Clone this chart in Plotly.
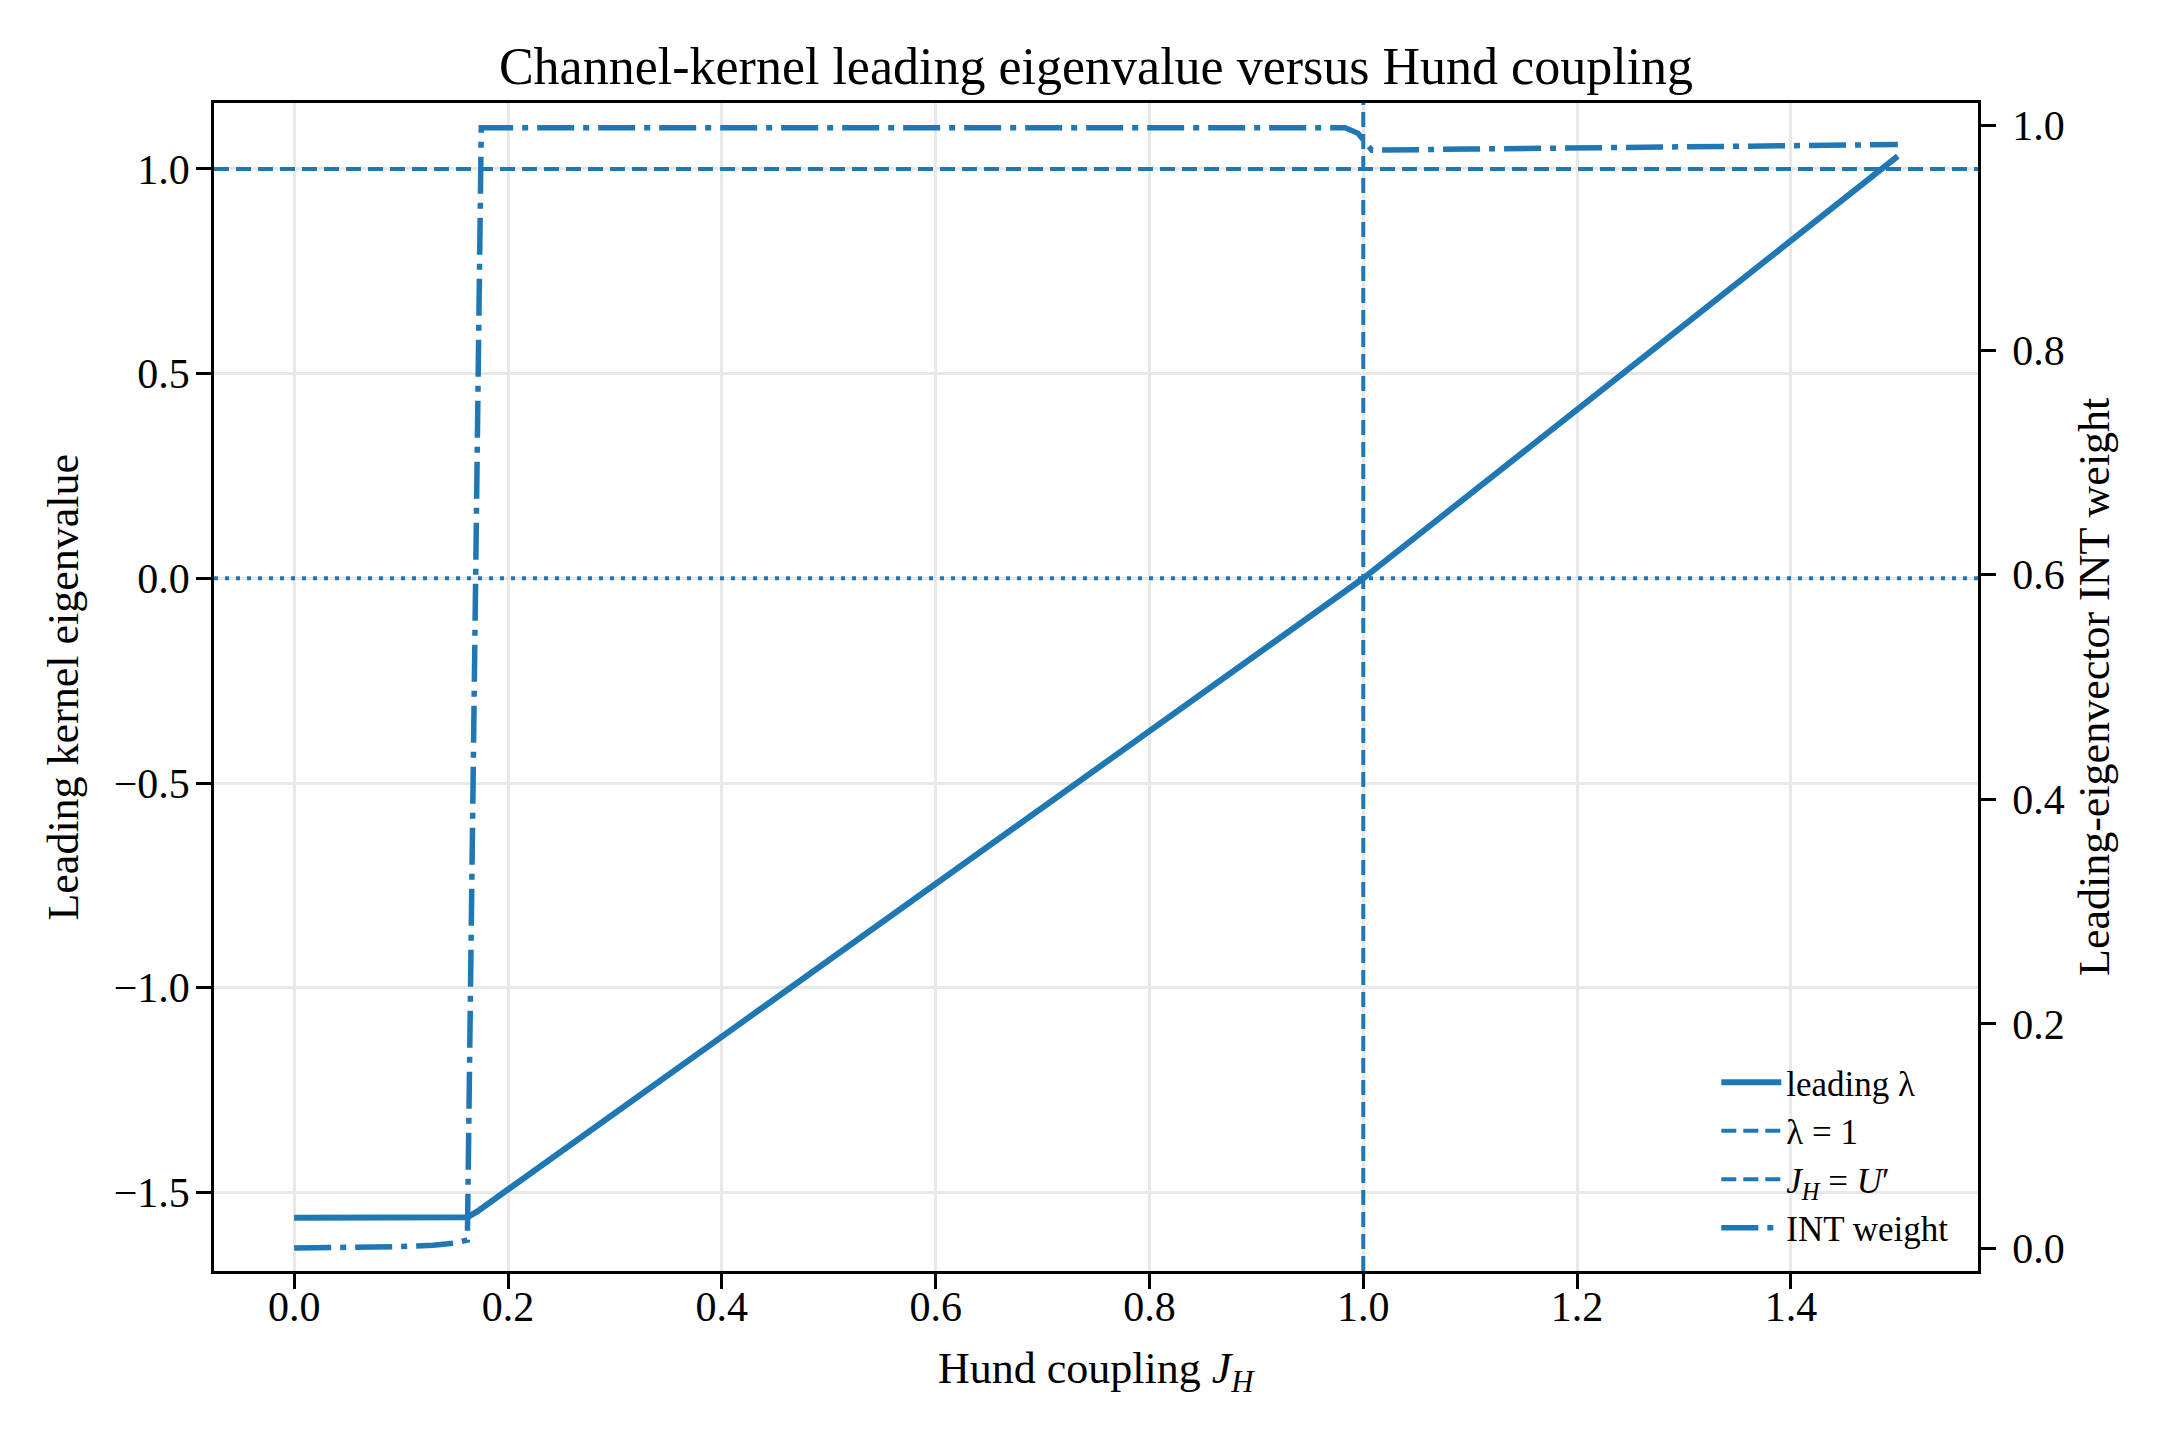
import plotly.graph_objects as go

# ---- data ----
J_lambda = [0.0, 0.05, 0.10, 0.15, 0.162, 0.171, 0.2, 0.4, 0.6, 0.8, 1.0, 1.2, 1.4, 1.5]
leading_lambda = [-1.562, -1.562, -1.562, -1.562, -1.561, -1.547, -1.493, -1.120,
                  -0.747, -0.373, 0.0, 0.412, 0.824, 1.031]

J_int = [0.0, 0.05, 0.10, 0.13, 0.15, 0.162, 0.175, 0.5, 0.983, 0.995, 1.008, 1.1, 1.3, 1.5]
int_weight = [0.0004, 0.0008, 0.0018, 0.003, 0.0048, 0.0076, 0.998, 0.998, 0.998,
              0.993, 0.978, 0.979, 0.981, 0.983]

lambda_crit = 1.0
lambda_zero = 0.0
J_equals_Uprime = 1.0

x_ticks = [0.0, 0.2, 0.4, 0.6, 0.8, 1.0, 1.2, 1.4]
y_ticks = [-1.5, -1.0, -0.5, 0.0, 0.5, 1.0]
y2_ticks = [0.0, 0.2, 0.4, 0.6, 0.8, 1.0]

BLUE = "#1f77b4"
FONT = "Liberation Serif"

fig = go.Figure()

fig.add_trace(go.Scatter(
    x=J_lambda, y=leading_lambda, mode="lines", name="leading λ",
    line=dict(color=BLUE, width=6), legendrank=1, yaxis="y"))

fig.add_trace(go.Scatter(
    x=J_int, y=int_weight, mode="lines", name="INT weight",
    line=dict(color=BLUE, width=5.5, dash="37px,9px,6px,9px"),
    legendrank=4, yaxis="y2"))

# reference lines
fig.add_shape(type="line", xref="x domain", x0=0, x1=1, yref="y",
              y0=lambda_crit, y1=lambda_crit,
              line=dict(color=BLUE, width=4, dash="15px,7px"),
              showlegend=True, name="λ = 1", legendrank=2)
fig.add_shape(type="line", xref="x", x0=J_equals_Uprime, x1=J_equals_Uprime,
              yref="y domain", y0=0, y1=1,
              line=dict(color=BLUE, width=4, dash="15px,7px"),
              showlegend=True, name="<i>J</i><sub><i>H</i></sub> = <i>U</i>′",
              legendrank=3)
fig.add_shape(type="line", xref="x domain", x0=0, x1=1, yref="y",
              y0=lambda_zero, y1=lambda_zero,
              line=dict(color=BLUE, width=4, dash="4px,7px"))

axis_common = dict(
    showline=True, linecolor="black", linewidth=3.3,
    ticks="outside", ticklen=14.6, tickwidth=3.3, tickcolor="black",
    tickfont=dict(family=FONT, size=42, color="black"),
    zeroline=False,
)

fig.update_layout(
    width=2160, height=1440,
    margin=dict(l=214, r=182, t=103, b=169),
    paper_bgcolor="white", plot_bgcolor="white",
    font=dict(family=FONT, color="black"),
    title=dict(text="Channel-kernel leading eigenvalue versus Hund coupling",
               font=dict(family=FONT, size=52, color="black"),
               x=0.5, xref="paper", xanchor="center",
               y=1 - 66 / 1440, yref="container", yanchor="middle"),
    xaxis=dict(range=[-0.075, 1.575], tickvals=x_ticks,
               ticktext=[f"{v:.1f}" for v in x_ticks],
               showgrid=True, gridcolor="#e8e8e8", gridwidth=3,
               mirror=True, ticklabelstandoff=-18, **axis_common),
    yaxis=dict(range=[-1.692, 1.161], tickvals=y_ticks,
               ticktext=[f"{v:.1f}".replace("-", "−") for v in y_ticks],
               showgrid=True, gridcolor="#e8e8e8", gridwidth=3,
               ticklabelstandoff=-2, **axis_common),
    yaxis2=dict(range=[-0.02, 1.02], tickvals=y2_ticks,
                ticktext=[f"{v:.1f}" for v in y2_ticks],
                overlaying="y", side="right", showgrid=False,
                ticklabelstandoff=8, **axis_common),
    legend=dict(x=0.986, xanchor="right", y=0.012, yanchor="bottom",
                bgcolor="rgba(0,0,0,0)", borderwidth=0,
                font=dict(family=FONT, size=35, color="black"),
                itemwidth=60, tracegroupgap=0),
    showlegend=True,
)

# axis titles
fig.add_annotation(text="Hund coupling <i>J</i><sub><i>H</i></sub>",
                   xref="paper", yref="paper", x=0.5, y=(1271.5 - 1372) / 1168.5,
                   xanchor="center", yanchor="middle", showarrow=False,
                   font=dict(family=FONT, size=44, color="black"))
fig.add_annotation(text="Leading kernel eigenvalue",
                   xref="paper", yref="paper", x=(62 - 213.5) / 1764.5, y=0.5,
                   xanchor="center", yanchor="middle", showarrow=False, textangle=-90,
                   font=dict(family=FONT, size=44, color="black"))
fig.add_annotation(text="Leading-eigenvector INT weight",
                   xref="paper", yref="paper", x=(2094 - 213.5) / 1764.5, y=0.5,
                   xanchor="center", yanchor="middle", showarrow=False, textangle=-90,
                   font=dict(family=FONT, size=44, color="black"))

fig.write_html("out.html")
